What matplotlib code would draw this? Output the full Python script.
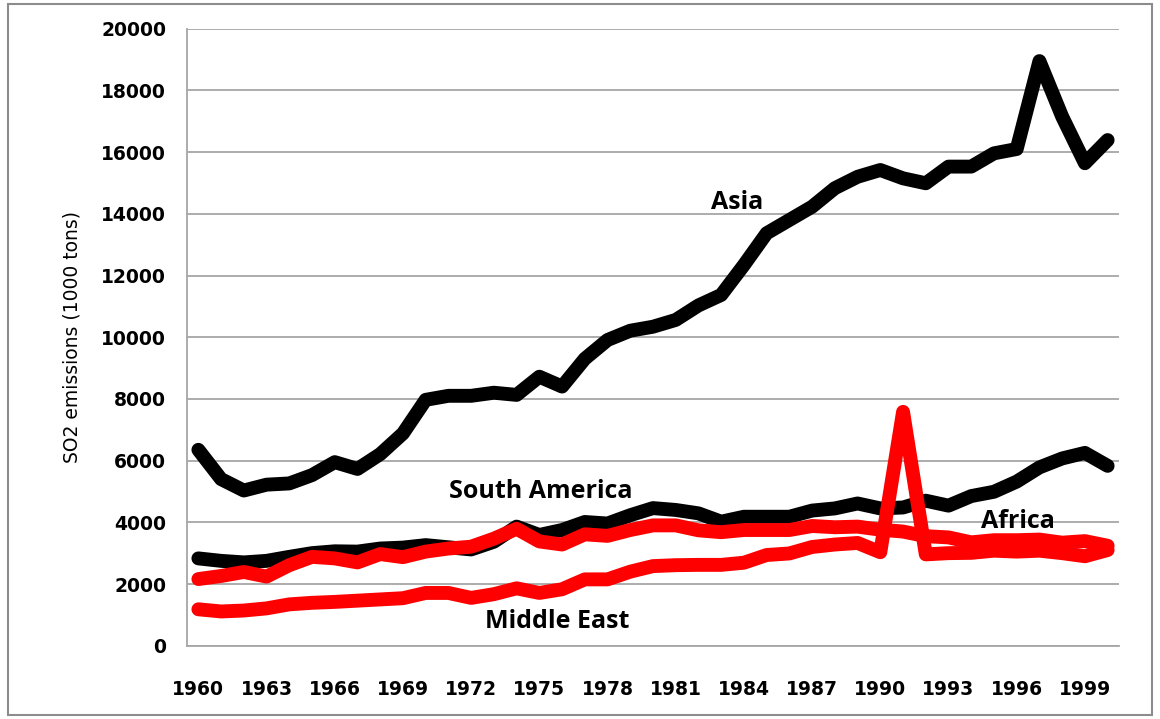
import matplotlib
matplotlib.use('Agg')
import matplotlib.pyplot as plt
from matplotlib.patches import Rectangle

# SO2 emissions (1000 tons) by region
years = list(range(1960, 2001))

asia = [6350, 5400, 5030, 5220, 5260, 5530, 5950, 5730, 6210, 6880,
        7970, 8100, 8100, 8200, 8130, 8720, 8400, 9300, 9910, 10210,
        10340, 10560, 11030, 11370, 12340, 13370, 13800, 14230, 14830, 15200,
        15420, 15150, 14990, 15530, 15530, 15960, 16100, 18950, 17150, 15640,
        16390]

south_america = [2830, 2750, 2700, 2750, 2880, 3000, 3060, 3050, 3150, 3180,
                 3260, 3190, 3120, 3370, 3860, 3590, 3750, 4010, 3960, 4230,
                 4460, 4400, 4290, 4020, 4180, 4180, 4180, 4380, 4450, 4610,
                 4450, 4480, 4700, 4540, 4850, 4990, 5320, 5780, 6070, 6250,
                 5830]

africa = [2160, 2260, 2390, 2240, 2610, 2880, 2830, 2700, 2970, 2870,
          3050, 3150, 3210, 3470, 3790, 3380, 3280, 3610, 3560, 3750,
          3900, 3900, 3740, 3680, 3750, 3750, 3750, 3880, 3840, 3860,
          3760, 3700, 3550, 3510, 3350, 3420, 3420, 3440, 3340, 3390,
          3240]

middle_east = [1180, 1110, 1140, 1210, 1340, 1390, 1420, 1460, 1500, 1540,
               1710, 1710, 1550, 1670, 1860, 1710, 1830, 2150, 2150, 2400,
               2580, 2610, 2620, 2620, 2690, 2940, 2990, 3200, 3280, 3330,
               3030, 7580, 2960, 3000, 3010, 3080, 3050, 3080, 3000, 2900,
               3100]

series = [
    ("Asia", asia, 'black'),
    ("South America", south_america, 'black'),
    ("Africa", africa, 'red'),
    ("Middle East", middle_east, 'red'),
]

tick_years = years[::3]

fig = plt.figure(figsize=(11.6, 7.19), dpi=100)
ax = fig.add_axes([187/1160, 1 - 645.7/719, (1119-187)/1160, (645.7-28.7)/719])

x = list(range(len(years)))
for name, vals, col in series:
    ax.plot(x, vals, color=col, linewidth=10, solid_capstyle='round',
            solid_joinstyle='round', zorder=3)

ax.set_xlim(-0.5, len(years) - 0.5)
ax.set_ylim(0, 20000)
ax.set_yticks(range(0, 20001, 2000))
ax.set_yticklabels([str(v) for v in range(0, 20001, 2000)],
                   fontsize=13.5, fontweight='bold')
ax.set_xticks([years.index(y) for y in tick_years])
ax.set_xticklabels([str(y) for y in tick_years], fontsize=13.5, fontweight='bold')
ax.tick_params(axis='x', length=0, pad=25)
ax.tick_params(axis='y', length=0, pad=15)

ax.grid(axis='y', color='#a6a6a6', linewidth=1.3, zorder=0)
for s in ['top', 'right']:
    ax.spines[s].set_visible(False)
for s in ['left', 'bottom']:
    ax.spines[s].set_color('#a6a6a6')
    ax.spines[s].set_linewidth(1.3)

ax.set_ylabel("SO2 emissions (1000 tons)", fontsize=13.5,
              family=['Liberation Sans Narrow', 'DejaVu Sans'], labelpad=14)

# region labels
lab_kw = dict(fontsize=18, fontweight='bold', family=['Open Sans', 'DejaVu Sans'],
              ha='center', va='center', zorder=4)
ax.text(23.7, 14380, "Asia", **lab_kw)
ax.text(15.06, 4985, "South America", **lab_kw)
ax.text(36.05, 4040, "Africa", **lab_kw)
ax.text(15.77, 800, "Middle East", **lab_kw)

# outer frame around the whole picture
fig.patches.append(Rectangle((8/1160, 4/719), 1144/1160, 711/719,
                             transform=fig.transFigure, fill=False,
                             edgecolor='#8c8c8c', linewidth=1.5))

fig.savefig('out.png', dpi=100)
